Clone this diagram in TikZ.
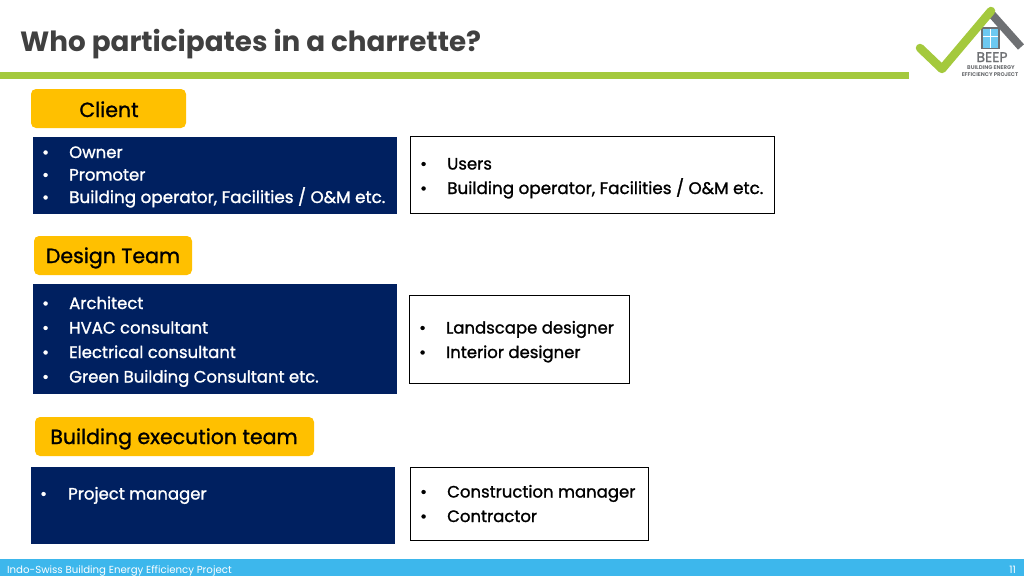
\documentclass[tikz,border=0pt]{standalone}
\usepackage{fontspec}
\setmainfont{Poppins}
\newfontfamily\medfont[FakeBold=1.2]{Poppins}
\usetikzlibrary{calc}
\definecolor{beepgreen}{HTML}{A4C93D}
\definecolor{beepgold}{HTML}{FFC000}
\definecolor{beepnavy}{HTML}{002060}
\definecolor{beepblue}{HTML}{3DB7EC}
\definecolor{beepgrey}{HTML}{6E7073}
\tikzset{
	head/.style={fill=beepgold, draw=none, rounded corners=5pt},
	headtext/.style={anchor=base, text=black, font=\medfont\fontsize{20.5}{20.5}\selectfont, inner sep=0pt},
	navybox/.style={fill=beepnavy, draw=none},
	whitebox/.style={fill=white, draw=black, line width=0.7pt},
	lefttext/.style={anchor=base west, text=white, font=\medfont\fontsize{16.5}{16.5}\selectfont, inner sep=0pt},
	righttext/.style={anchor=base west, text=black, font=\medfont\fontsize{16.5}{16.5}\selectfont, inner sep=0pt},
	longtext/.style={font=\medfont\fontsize{16.8}{16.8}\selectfont},
}
\begin{document}
\begin{tikzpicture}[x=1pt, y=-1pt]
			%%%%% START %%%%%
			\useasboundingbox (0, 0) rectangle (1024, 576);
			
			\node[anchor=base west, inner sep=0pt, text=black!75, font=\bfseries\fontsize{27.8}{27.8}\selectfont] (title) at (20, 51) {Who participates in a charrette?};
			\fill[beepgreen] (0, 72) rectangle (909, 79);
			
			%%%%% LOGO %%%%%
			\draw[line width=8pt, color=beepgrey] (1021, 47) -- (988, 10);
			\fill[beepgrey] (981, 27) rectangle (1000, 49);
			\fill[beepblue!75] (983, 29) rectangle (998, 48);
			\draw[white, line width=0.8pt] (990.5, 29) -- (990.5, 48) (983, 36) -- (998, 36);
			\draw[line width=8.5pt, color=beepgreen, line join=round, line cap=round] (920, 48) -- (942, 69) -- (991, 11);
			\node[anchor=base, inner sep=0pt, text=beepgrey, font=\medfont\fontsize{14}{14}\selectfont] (logoname) at (992, 62) {BEEP};
			\node[anchor=base, inner sep=0pt, text=beepgrey, font=\bfseries\fontsize{5.4}{5.4}\selectfont] (logoline) at (991, 69.5) {BUILDING ENERGY};
			\node[anchor=base, inner sep=0pt, text=beepgrey, font=\bfseries\fontsize{5.4}{5.4}\selectfont] (logolinetwo) at (990, 76) {EFFICIENCY PROJECT};
			
			%%%%% CLIENT %%%%%
			\draw[head] (31, 89) rectangle (186, 128);
			\node[headtext] (client) at (109, 117) {Client};
			\draw[navybox] (33, 137) rectangle (397, 214);
			\node[lefttext] (ownerdot) at (42, 158) {•};
			\node[lefttext] (owner) at (69, 158) {Owner};
			\node[lefttext] (promoterdot) at (42, 180.5) {•};
			\node[lefttext] (promoter) at (69, 180.5) {Promoter};
			\node[lefttext] (operatordot) at (42, 203) {•};
			\node[lefttext, longtext] (operator) at (69, 203) {Building operator, Facilities / O\&M etc.};
			\draw[whitebox] (410.5, 136.5) rectangle (774.5, 213.5);
			\node[righttext] (usersdot) at (420, 169.5) {•};
			\node[righttext] (users) at (447, 169.5) {Users};
			\node[righttext] (facilitiesdot) at (420, 194) {•};
			\node[righttext, longtext] (facilities) at (447, 194) {Building operator, Facilities / O\&M etc.};
			
			%%%%% DESIGN TEAM %%%%%
			\draw[head] (34, 236) rectangle (192, 275);
			\node[headtext] (design) at (113, 263) {Design Team};
			\draw[navybox] (33, 284) rectangle (397, 394);
			\node[lefttext] (architectdot) at (42, 309) {•};
			\node[lefttext] (architect) at (69, 309) {Architect};
			\node[lefttext] (hvacdot) at (42, 333.5) {•};
			\node[lefttext] (hvac) at (69, 333.5) {HVAC consultant};
			\node[lefttext] (electricaldot) at (42, 358) {•};
			\node[lefttext] (electrical) at (69, 358) {Electrical consultant};
			\node[lefttext] (greendot) at (42, 382.5) {•};
			\node[lefttext] (green) at (69, 382.5) {Green Building Consultant etc.};
			\draw[whitebox] (409.5, 295.5) rectangle (629.5, 383.5);
			\node[righttext] (landscapedot) at (419, 333.5) {•};
			\node[righttext] (landscape) at (446, 333.5) {Landscape designer};
			\node[righttext] (interiordot) at (419, 358) {•};
			\node[righttext] (interior) at (446, 358) {Interior designer};
			
			%%%%% EXECUTION TEAM %%%%%
			\draw[head] (35, 417) rectangle (314, 456);
			\node[headtext] (execution) at (174, 444) {Building execution team};
			\draw[navybox] (31, 467) rectangle (395, 544);
			\node[lefttext] (projectdot) at (40, 499.5) {•};
			\node[lefttext] (project) at (68, 499.5) {Project manager};
			\draw[whitebox] (410.5, 467.5) rectangle (648.5, 540.5);
			\node[righttext] (constructiondot) at (420, 497.5) {•};
			\node[righttext] (construction) at (447, 497.5) {Construction manager};
			\node[righttext] (contractordot) at (420, 522) {•};
			\node[righttext] (contractor) at (447, 522) {Contractor};
			
			%%%%% FOOTER %%%%%
			\fill[beepblue] (0, 559) rectangle (1024, 576);
			\node[anchor=base west, inner sep=0pt, text=white, font=\fontsize{10.2}{10.2}\selectfont] (footer) at (7, 573.5) {Indo-Swiss Building Energy Efficiency Project};
			\node[anchor=base east, inner sep=0pt, text=white, font=\fontsize{10.2}{10.2}\selectfont] (page) at (1016, 573.5) {11};
			
			%%%%% END %%%%%
		\end{tikzpicture}
\end{document}
